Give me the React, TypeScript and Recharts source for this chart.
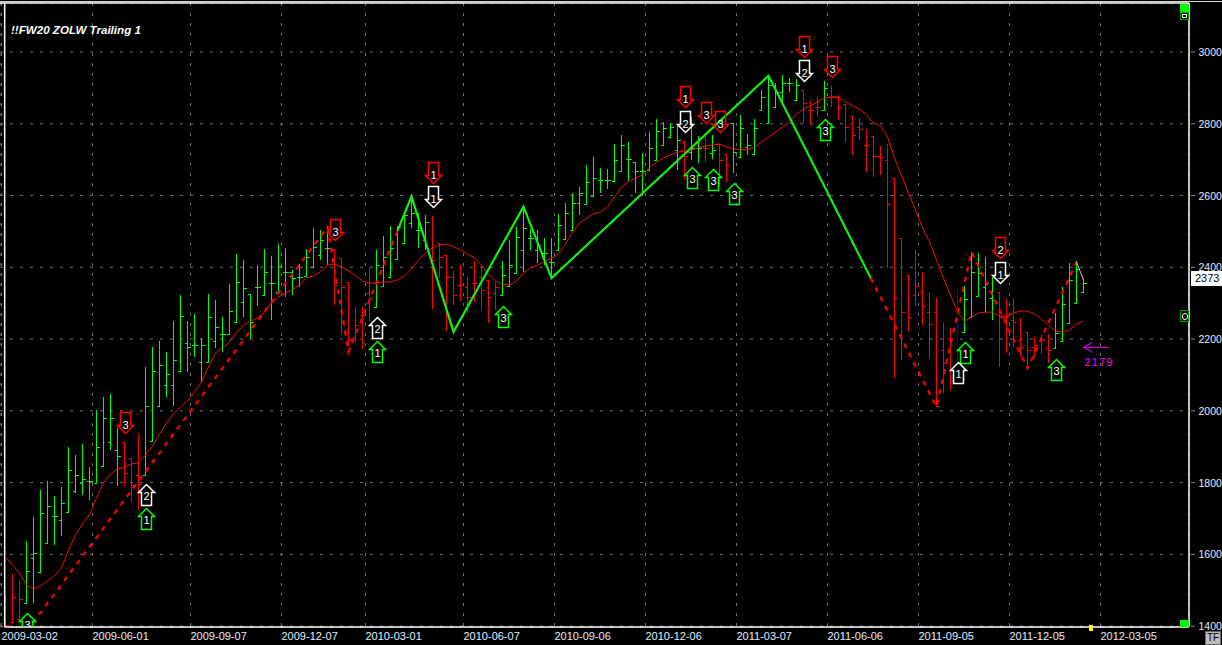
import React from "react";
import { ComposedChart, Bar, Line, Scatter, XAxis, YAxis, CartesianGrid, ReferenceLine } from "recharts";

const highs = [
  1486,1545,1525,1637,1704,1779,1804,1762,1787,1899,1877,1907,1843,2002,2038,2047,1952,1913,1868,1935,
  2122,2178,2194,2164,2250,2322,2250,2270,2203,2325,2308,2261,2353,2437,2420,2325,2406,2451,2431,2465,
  2453,2392,2409,2451,2510,2504,2515,2451,2426,2359,2289,2289,2398,2448,2487,2515,2515,2551,2593,2551,
  2546,2543,2468,2434,2390,2406,2373,2418,2406,2365,2359,2418,2476,2512,2565,2507,2504,2482,2482,2549,
  2579,2607,2624,2685,2707,2677,2674,2744,2769,2749,2693,2719,2777,2813,2805,2802,2794,2752,2819,2766,
  2769,2769,2744,2716,2802,2824,2771,2813,2894,2933,2914,2936,2928,2925,2894,2863,2875,2919,2905,2880,
  2855,2822,2816,2785,2766,2738,2744,2649,2482,2379,2448,2387,2331,2314,2245,2231,2342,2348,2443,2440,
  2429,2373,2331,2312,2312,2259,2220,2206,2211,2214,2273,2345,2412,2418,2370,
];
const lows = [
  1400,1411,1411,1464,1464,1550,1631,1626,1651,1718,1771,1765,1751,1799,1846,1890,1790,1790,1746,1723,
  1821,1916,2013,2038,2013,2111,2108,2150,2077,2136,2175,2164,2214,2247,2261,2200,2292,2322,2253,2331,
  2317,2322,2345,2376,2401,2420,2406,2295,2214,2178,2192,2172,2250,2289,2348,2373,2423,2468,2510,2454,
  2448,2284,2370,2222,2295,2306,2273,2303,2281,2245,2281,2323,2348,2384,2387,2448,2412,2406,2370,2448,
  2479,2504,2546,2576,2599,2607,2618,2641,2668,2641,2607,2602,2671,2699,2738,2763,2671,2643,2699,2691,
  2693,2702,2627,2638,2663,2707,2713,2716,2838,2802,2847,2858,2889,2866,2802,2797,2819,2838,2847,2811,
  2749,2713,2755,2666,2652,2657,2398,2092,2142,2222,2292,2239,2147,2011,2050,2058,2136,2220,2261,2320,
  2275,2253,2122,2161,2175,2150,2117,2147,2158,2133,2175,2195,2245,2301,2331,
];
const opens = [
  1422,1411,1419,1464,1589,1550,1631,1706,1695,1718,1776,1799,1804,1799,1846,1913,1890,1913,1868,1821,
  1821,1916,2013,2072,2072,2111,2189,2183,2136,2136,2194,2214,2214,2247,2303,2325,2345,2322,2356,2331,
  2387,2387,2373,2376,2401,2434,2454,2451,2426,2359,2206,2267,2328,2289,2348,2373,2423,2468,2524,2504,
  2476,2415,2468,2434,2373,2351,2345,2356,2373,2365,2328,2323,2348,2384,2448,2482,2448,2440,2415,2448,
  2479,2504,2579,2576,2599,2643,2643,2641,2668,2702,2693,2668,2671,2699,2741,2763,2727,2749,2721,2733,
  2733,2719,2744,2716,2802,2707,2735,2716,2838,2802,2847,2889,2914,2866,2894,2838,2847,2838,2875,2875,
  2855,2822,2791,2741,2766,2710,2699,2649,2482,2379,2323,2331,2275,2275,2170,2203,2225,2220,2261,2320,
  2345,2314,2331,2261,2253,2197,2220,2178,2197,2175,2175,2195,2245,2301,2331,
];
const closes = [
  1403,1481,1475,1553,1605,1715,1734,1706,1743,1835,1821,1810,1804,1899,1980,1980,1875,1826,1793,1796,
  2013,2111,2127,2102,2141,2264,2178,2183,2183,2261,2233,2214,2278,2359,2342,2247,2345,2387,2356,2403,
  2387,2370,2373,2429,2456,2476,2454,2351,2345,2197,2239,2267,2314,2406,2429,2454,2512,2546,2551,2504,
  2526,2420,2429,2373,2323,2351,2317,2356,2337,2317,2345,2379,2406,2484,2510,2482,2462,2440,2415,2518,
  2551,2579,2607,2638,2649,2643,2643,2699,2741,2702,2668,2668,2733,2780,2788,2791,2755,2710,2733,2733,
  2733,2727,2699,2685,2721,2788,2741,2788,2875,2908,2889,2914,2914,2908,2858,2838,2847,2900,2875,2847,
  2791,2769,2785,2741,2710,2707,2576,2314,2275,2261,2348,2292,2242,2013,2133,2086,2239,2312,2387,2384,
  2356,2309,2261,2261,2248,2178,2170,2183,2197,2170,2217,2298,2365,2395,2356,
];
const movingAverage = [
  1593,1570,1548,1515,1503,1512,1526,1540,1562,1612,1654,1685,1710,1757,1799,1824,1838,1843,1852,1855,
  1877,1902,1935,1966,1991,2011,2027,2052,2080,2122,2161,2175,2192,2217,2239,2250,2259,2275,2301,2317,
  2328,2337,2351,2370,2376,2387,2406,2409,2401,2390,2376,2362,2356,2356,2359,2359,2365,2376,2395,2420,
  2440,2454,2462,2465,2457,2448,2437,2426,2406,2379,2362,2353,2351,2362,2384,2398,2406,2415,2426,2437,
  2465,2498,2523,2537,2549,2554,2568,2596,2624,2638,2649,2657,2677,2693,2705,2713,2721,2724,2727,2733,
  2738,2741,2744,2735,2730,2727,2727,2735,2749,2763,2777,2791,2805,2827,2841,2850,2861,2872,2875,2875,
  2861,2850,2841,2825,2802,2794,2763,2705,2657,2607,2560,2510,2471,2420,2370,2323,2275,2250,2261,2273,
  2275,2275,2264,2264,2273,2278,2278,2270,2256,2239,2222,2220,2225,2242,2250,
];
const regimeRuns: [string, number][] = [
  ["down",3],["up",14],["down",3],["up",27],["down",6],["up",8],["down",10],["up",26],["down",1],["up",2],
  ["down",1],["up",1],["down",2],["up",10],["down",3],["up",1],["down",18],["flat",1],["up",5],["down",8],["up",5],
];
const regimes = regimeRuns.flatMap(([r, n]) => Array.from({ length: n }, () => r));

const tickWeeks = [0,13,27,40,52,66,79,92,105,118,131,144,157];
const tickLabels = [
  "2009-03-02","2009-06-01","2009-09-07","2009-12-07","2010-03-01","2010-06-07","2010-09-06",
  "2010-12-06","2011-03-07","2011-06-06","2011-09-05","2011-12-05","2012-03-05",
];
const priceTicks = [1400,1600,1800,2000,2200,2400,2600,2800,3000];

const dashedLegA = [{i:3,v:1385},{i:46,v:2512},{i:49,v:2164},{i:56,v:2502}];
const solidLeg = [{i:56,v:2502},{i:58,v:2597},{i:64,v:2220},{i:74,v:2569},{i:78,v:2370},{i:109,v:2934},{i:123.6,v:2370}];
const dashedLegB = [{i:123.6,v:2370},{i:133,v:2011},{i:138,v:2443},{i:146,v:2118},{i:153,v:2415}];
const lastLeg = [{i:153,v:2415},{i:154,v:2365}];

const arrows = [
  {i:17,v:1939,dir:"down",kind:"red",label:"3"},
  {i:47,v:2476,dir:"down",kind:"red",label:"3"},
  {i:61,v:2636,dir:"down",kind:"red",label:"1"},
  {i:61,v:2569,dir:"down",kind:"white",label:"1"},
  {i:97,v:2846,dir:"down",kind:"red",label:"1"},
  {i:97,v:2778,dir:"down",kind:"white",label:"2"},
  {i:100,v:2803,dir:"down",kind:"red",label:"3"},
  {i:102,v:2778,dir:"down",kind:"red",label:"3"},
  {i:114,v:2987,dir:"down",kind:"red",label:"1"},
  {i:114,v:2920,dir:"down",kind:"white",label:"2"},
  {i:118,v:2931,dir:"down",kind:"red",label:"3"},
  {i:142,v:2425,dir:"down",kind:"red",label:"2"},
  {i:142,v:2357,dir:"down",kind:"white",label:"1"},
  {i:3,v:1437,dir:"up",kind:"green",label:"3"},
  {i:20,v:1728,dir:"up",kind:"green",label:"1"},
  {i:20,v:1795,dir:"up",kind:"white",label:"2"},
  {i:53,v:2261,dir:"up",kind:"white",label:"2"},
  {i:53,v:2195,dir:"up",kind:"green",label:"1"},
  {i:71,v:2293,dir:"up",kind:"green",label:"3"},
  {i:98,v:2680,dir:"up",kind:"green",label:"3"},
  {i:101,v:2674,dir:"up",kind:"green",label:"3"},
  {i:104,v:2634,dir:"up",kind:"green",label:"3"},
  {i:117,v:2813,dir:"up",kind:"green",label:"3"},
  {i:137,v:2191,dir:"up",kind:"green",label:"1"},
  {i:136,v:2137,dir:"up",kind:"white",label:"1"},
  {i:150,v:2144,dir:"up",kind:"green",label:"3"},
];
const forecast = [{i:154,v:2177,label:"2179"}];

const rows = highs.map((high, i) => ({
  i, high, low: lows[i], open: opens[i], close: closes[i], ma: movingAverage[i], regime: regimes[i],
  range: [lows[i], highs[i]],
}));

const BAR_COLOURS: Record<string, string> = { up: "#00ff00", down: "#ff0000", flat: "#0000ff" };
const ARROW_COLOURS: Record<string, string> = { red: "#ff0000", white: "#ffffff", green: "#00ff00" };
const SANS = "'Liberation Sans', Arial, sans-serif";
const Y_TOP = 3136.6;
const Y_BOTTOM = 1397.5;
const X_LEFT = -0.786;
const X_RIGHT = 169.07;
const FRAME_LEFT = -0.12;

const OhlcShape = (props: any) => {
  const { x, y, width, height, payload } = props;
  const cx = Math.round(x + width / 2) + 0.5;
  const c = BAR_COLOURS[payload.regime];
  const span = payload.high - payload.low || 1;
  const yOf = (v: number) => Math.round(y + ((payload.high - v) / span) * height) + 0.5;
  return (
    <g stroke={c} strokeWidth={1} shapeRendering="crispEdges">
      <line x1={cx} x2={cx} y1={y} y2={y + height} />
      <line x1={cx - 3} x2={cx} y1={yOf(payload.open)} y2={yOf(payload.open)} />
      <line x1={cx} x2={cx + 3} y1={yOf(payload.close)} y2={yOf(payload.close)} />
    </g>
  );
};

const ArrowShape = (props: any) => {
  const { cx, cy, payload } = props;
  const c = ARROW_COLOURS[payload.kind];
  const s = payload.dir === "down" ? -1 : 1;
  const px = Math.round(cx) + 0.5;
  const py = Math.round(cy) + 0.5;
  const d = `M${px},${py} L${px + 8},${py + s * 8} H${px + 5} V${py + s * 21} H${px - 5} V${py + s * 8} H${px - 8} Z`;
  return (
    <g>
      <path d={d} fill="none" stroke={c} strokeWidth={1.5} />
      <text x={px} y={py + s * (s > 0 ? 15 : 4.5)} textAnchor="middle" fontFamily={SANS} fontSize={11} fill="#ffffff">
        {payload.label}
      </text>
    </g>
  );
};

const ForecastShape = (props: any) => {
  const { cx, cy, payload } = props;
  const c = "#ff00ff";
  return (
    <g>
      <path d={`M${cx + 25},${cy} H${cx} M${cx + 9},${cy - 5} L${cx},${cy} L${cx + 9},${cy + 5}`} fill="none" stroke={c} strokeWidth={1} />
      <text x={cx + 1} y={cy + 18.5} fontFamily={SANS} fontSize={11} letterSpacing={1.2} fill={c}>{payload.label}</text>
    </g>
  );
};

const XTick = (props: any) => (
  <text x={props.x} y={640} fontFamily={SANS} fontSize={11} fill="#e4ecff">
    {tickLabels[props.index]}
  </text>
);

const YTick = (props: any) => (
  <g>
    <line x1={props.x + 2} x2={props.x + 6} y1={props.y} y2={props.y} stroke="#8a8a8a" />
    <text x={props.x + 9.5} y={props.y + 4} fontFamily={SANS} fontSize={10.5} fill="#e4ecff">
      {props.payload.value}
    </text>
  </g>
);

const abs = (left: number, top: number, width: number, height: number, extra: any = {}) => ({
  position: "absolute" as const, left, top, width, height, boxSizing: "border-box" as const, ...extra,
});

export default function App() {
  return (
    <div style={{ position: "fixed", left: 0, top: 0, width: 1222, height: 645, background: "#000", overflow: "hidden" }}>
      <ComposedChart
        width={1222}
        height={645}
        data={rows}
        margin={{ top: 3, right: 0, bottom: 0, left: 0 }}
        style={{ background: "#000" }}
      >
        <CartesianGrid stroke="#707070" strokeDasharray="3 7" />
        <XAxis
          dataKey="i"
          type="number"
          domain={[X_LEFT, X_RIGHT]}
          allowDataOverflow
          ticks={tickWeeks.map((w) => w - 4 / 7)}
          interval={0}
          height={18}
          axisLine={false}
          tickLine={false}
          tick={<XTick />}
        />
        <YAxis
          orientation="right"
          type="number"
          width={33}
          domain={[Y_BOTTOM, Y_TOP]}
          allowDataOverflow
          ticks={priceTicks}
          interval={0}
          tickSize={0}
          tickMargin={0}
          axisLine={{ stroke: "#ffffff", strokeWidth: 1.5 }}
          tick={<YTick />}
        />
        <ReferenceLine y={Y_TOP} stroke="#ffffff" strokeWidth={1.5} ifOverflow="visible" />
        <ReferenceLine x={FRAME_LEFT} stroke="#ffffff" strokeWidth={1.5} ifOverflow="visible" />
        <ReferenceLine
          ifOverflow="visible"
          stroke="#ffffff"
          strokeWidth={1.5}
          segment={[{ x: FRAME_LEFT, y: Y_BOTTOM }, { x: X_RIGHT, y: Y_BOTTOM }]}
        />
        <Bar dataKey="range" barSize={6} isAnimationActive={false} shape={<OhlcShape />} />
        <Line dataKey="ma" stroke="#ee1111" strokeWidth={1} dot={false} isAnimationActive={false} />
        <Line data={dashedLegA} dataKey="v" stroke="#ff0000" strokeWidth={2.2} strokeDasharray="5 5.5" dot={false} isAnimationActive={false} />
        <Line data={dashedLegB} dataKey="v" stroke="#ff0000" strokeWidth={2.2} strokeDasharray="5 5.5" dot={false} isAnimationActive={false} />
        <Line data={solidLeg} dataKey="v" stroke="#11ee11" strokeWidth={2.2} dot={false} isAnimationActive={false} />
        <Line data={lastLeg} dataKey="v" stroke="#c8c8c8" strokeWidth={1} dot={false} isAnimationActive={false} />
        <Scatter data={arrows} dataKey="v" isAnimationActive={false} shape={<ArrowShape />} />
        <Scatter data={forecast} dataKey="v" isAnimationActive={false} shape={<ForecastShape />} />
      </ComposedChart>

      <div style={abs(0, 1, 1222, 1, { background: "#d8d8d8" })} />
      <div style={abs(11, 23, 200, 14, { color: "#fff", font: `italic bold 11.6px ${SANS}`, lineHeight: "14px", whiteSpace: "nowrap" })}>
        !!FW20 ZOLW Trailing 1
      </div>
      <div style={abs(1180, 4, 9, 8, { background: "#00ff00" })} />
      <div style={abs(1180, 12, 9, 8, { background: "#000", border: "1px solid #00a000", display: "flex", alignItems: "center", justifyContent: "center" })}>
        <div style={{ width: 5, height: 4, border: "1px solid #fff", boxSizing: "border-box" }} />
      </div>
      <div style={abs(1180, 310, 9, 12, { background: "#000", border: "1px solid #00a000", display: "flex", alignItems: "center", justifyContent: "center" })}>
        <div style={{ width: 6, height: 7, border: "1px solid #fff", borderRadius: 3, boxSizing: "border-box" }} />
      </div>
      <div style={abs(1180, 620, 9, 7, { background: "#00ff00" })} />
      <div style={abs(1089, 625, 4, 6, { background: "#ffff00" })} />
      <div style={abs(1191, 271, 31, 15, { background: "#fff", color: "#000", font: `11px ${SANS}`, lineHeight: "15px", paddingLeft: 4 })}>
        2373
      </div>
      <div style={abs(1205, 631, 16, 14, { background: "#bdbdbd", border: "1px solid #666", color: "#000", font: `10px ${SANS}`, lineHeight: "12px", textAlign: "center", overflow: "hidden" })}>
        TF
      </div>
    </div>
  );
}
